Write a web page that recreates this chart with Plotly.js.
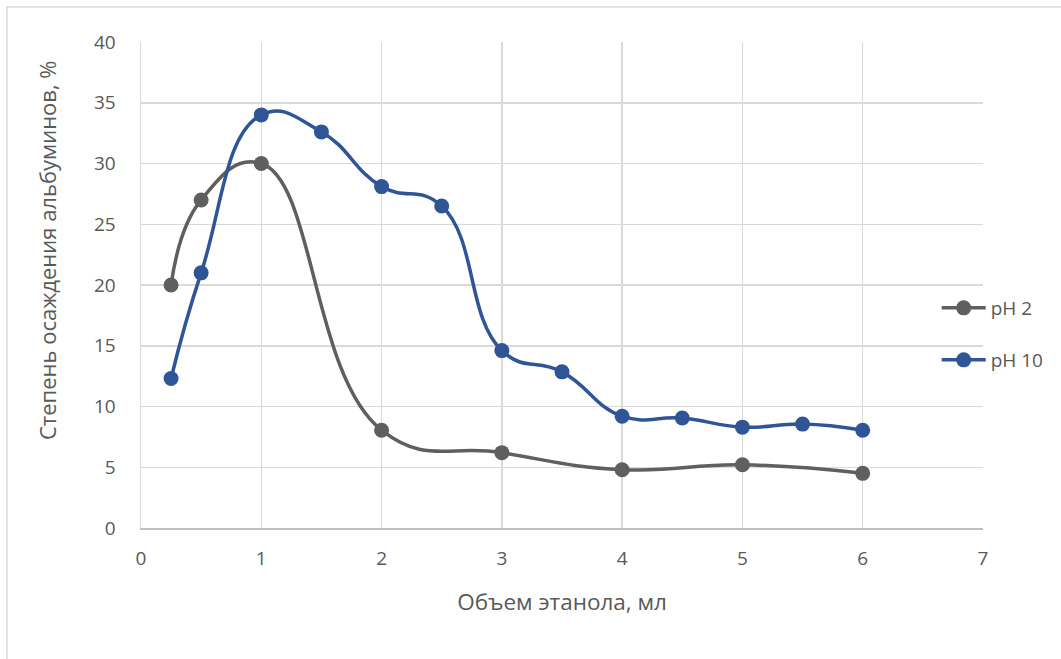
<!DOCTYPE html>
<html>
<head>
<meta charset="utf-8">
<script src="https://cdn.plot.ly/plotly-3.0.1.min.js"></script>
<style>
  html, body { margin: 0; padding: 0; background: #fff; }
  #chart { width: 1061px; height: 659px; }
</style>
</head>
<body>
<div id="chart"></div>
<script>
// Ethanol volume, ml
const xPH2 = [0.25, 0.5, 1, 2, 3, 4, 5, 6];
const yPH2 = [20, 27, 30, 8.05, 6.2, 4.8, 5.2, 4.5];

const xPH10 = [0.25, 0.5, 1, 1.5, 2, 2.5, 3, 3.5, 4, 4.5, 5, 5.5, 6];
const yPH10 = [12.3, 21, 34, 32.6, 28.1, 26.5, 14.6, 12.85, 9.2, 9.05, 8.3, 8.55, 8.05];

const seriesNames = ['pH 2', 'pH 10'];
const xTicks = [0, 1, 2, 3, 4, 5, 6, 7];
const yTicks = [0, 5, 10, 15, 20, 25, 30, 35, 40];
const xTitle = 'Объем этанола, мл';
const yTitle = 'Степень осаждения альбуминов, %';

const FONT = '"Open Sans", "Noto Sans", sans-serif';
const TEXT = '#595959';
const GREY = '#5f5f5f';
const BLUE = '#2f5597';

const traces = [
  {
    x: xPH2, y: yPH2, name: seriesNames[0], type: 'scatter', mode: 'lines+markers',
    line: { color: GREY, width: 3.5, shape: 'spline', smoothing: 1.3 },
    marker: { color: GREY, size: 15 },
    legend: 'legend'
  },
  {
    x: xPH10, y: yPH10, name: seriesNames[1], type: 'scatter', mode: 'lines+markers',
    line: { color: BLUE, width: 3.5, shape: 'spline', smoothing: 1.3 },
    marker: { color: BLUE, size: 15 },
    legend: 'legend2'
  }
];

const legendCommon = {
  xref: 'paper', yref: 'paper', xanchor: 'left', yanchor: 'middle',
  bgcolor: 'rgba(0,0,0,0)', borderwidth: 0, itemwidth: 44,
  font: { family: FONT, size: 19, color: TEXT }
};

const layout = {
  width: 1061, height: 659,
  margin: { l: 141, r: 78, t: 42, b: 131, pad: 0 },
  paper_bgcolor: '#ffffff',
  plot_bgcolor: '#ffffff',
  font: { family: FONT, color: TEXT },
  showlegend: true,
  legend: Object.assign({ x: 0.945, y: 1 - (308 - 42) / 486 }, legendCommon),
  legend2: Object.assign({ x: 0.945, y: 1 - (360 - 42) / 486 }, legendCommon),
  xaxis: {
    range: [0, 7],
    tickvals: xTicks,
    ticktext: xTicks.map(String),
    showgrid: true, gridcolor: '#d9d9d9', gridwidth: 1.5,
    zeroline: false,
    showline: true, linecolor: '#bfbfbf', linewidth: 2,
    ticks: 'outside', ticklen: 12, tickcolor: 'rgba(0,0,0,0)',
    tickfont: { family: FONT, size: 19, color: TEXT },
    title: { text: xTitle, font: { family: FONT, size: 22.5, color: TEXT }, standoff: 24 },
    fixedrange: true
  },
  yaxis: {
    range: [0, 40],
    tickvals: yTicks,
    ticktext: yTicks.map(String),
    showgrid: true, gridcolor: '#d9d9d9', gridwidth: 1.5,
    zeroline: false,
    showline: true, linecolor: '#d9d9d9', linewidth: 1.5,
    ticks: 'outside', ticklen: 20, tickcolor: 'rgba(0,0,0,0)',
    tickfont: { family: FONT, size: 19, color: TEXT },
    fixedrange: true
  },
  // Vertical axis title, set slightly above the middle of the plot
  annotations: [
    {
      text: yTitle, textangle: -90, showarrow: false,
      xref: 'paper', yref: 'paper',
      x: (47 - 141) / 842, y: (528 - 250) / 486,
      xanchor: 'center', yanchor: 'middle',
      font: { family: FONT, size: 22, color: TEXT }
    }
  ],
  shapes: [
    {
      type: 'rect', xref: 'paper', yref: 'paper',
      x0: (7 - 141) / 842, x1: (1075 - 141) / 842,
      y0: (528 - 675) / 486, y1: (528 - 7) / 486,
      line: { color: '#d9d9d9', width: 1.5 },
      fillcolor: 'rgba(0,0,0,0)', layer: 'below'
    }
  ]
};

Plotly.newPlot('chart', traces, layout, { displayModeBar: false, staticPlot: true });
</script>
</body>
</html>
